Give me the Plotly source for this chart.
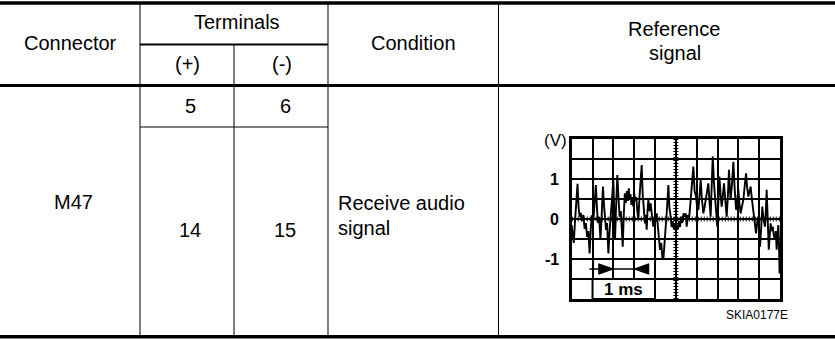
import plotly.graph_objects as go

# ---------------- data ----------------
header_connector = "Connector"
header_terminals = "Terminals"
header_plus = "(+)"
header_minus = "(-)"
header_condition = "Condition"
header_reference = ["Reference", "signal"]
connector = "M47"
term_plus = ["5", "14"]
term_minus = ["6", "15"]
condition = ["Receive audio", "signal"]
figure_code = "SKIA0177E"
volt_unit = "(V)"
volt_labels = ["1", "0", "-1"]
volt_label_vals = [1, 0, -1]
time_label = "1 ms"

# waveform: (time in ms, voltage in V)
wave = [
    (0.00, -0.15), (0.05, -0.45), (0.10, -0.60), (0.16, -0.05), (0.22, 0.35), (0.28, 0.88),
    (0.33, 0.30), (0.38, 0.05), (0.44, 0.15), (0.50, -0.05), (0.56, 0.10), (0.62, -0.25),
    (0.68, -0.10), (0.74, -0.45), (0.80, -0.30), (0.86, -0.86), (0.92, -0.20), (0.98, 0.10),
    (1.04, -0.05), (1.10, 0.40), (1.16, 0.85), (1.22, 0.20), (1.27, -0.10), (1.32, 0.05),
    (1.38, -0.52), (1.44, 0.10), (1.50, 0.81), (1.55, 0.35), (1.60, -0.05), (1.65, -0.27),
    (1.70, -0.10), (1.76, -0.86), (1.82, -0.30), (1.88, 0.06), (1.94, 0.50), (2.00, 0.97),
    (2.04, 0.20), (2.08, -0.52), (2.13, 0.30), (2.19, 1.10), (2.25, 0.50), (2.30, 0.06),
    (2.36, 0.20), (2.41, -0.30), (2.45, -0.69), (2.50, 0.10), (2.55, 0.64), (2.60, 0.40),
    (2.65, 0.70), (2.70, 0.45), (2.74, 0.77), (2.78, 0.50), (2.82, 0.62), (2.87, 0.35),
    (2.92, 0.55), (2.96, 0.31), (3.00, 0.64), (3.05, 0.45), (3.10, 0.55), (3.15, 0.20),
    (3.20, -0.02), (3.25, 0.50), (3.30, 0.90), (3.36, 1.35), (3.41, 0.60), (3.46, 0.20),
    (3.52, -0.11), (3.56, 0.10), (3.60, -0.27), (3.64, 0.20), (3.68, 0.48), (3.73, 0.20),
    (3.79, 0.39), (3.85, 0.10), (3.92, -0.19), (3.98, 0.05), (4.04, -0.05), (4.08, 0.14),
    (4.13, -0.20), (4.18, -0.50), (4.24, -0.77), (4.30, -0.60), (4.35, -0.95), (4.40, -1.02),
    (4.45, -0.70), (4.49, -0.40), (4.53, -0.19), (4.58, 0.30), (4.64, 0.85), (4.69, 0.30),
    (4.75, 0.06), (4.80, -0.20), (4.85, -0.05), (4.90, -0.25), (4.95, -0.10), (5.00, -0.30),
    (5.05, -0.15), (5.10, -0.25), (5.15, -0.05), (5.20, -0.20), (5.26, 0.06), (5.31, -0.10),
    (5.37, 0.14), (5.44, 0.05), (5.48, 0.14), (5.52, -0.19), (5.58, 0.10), (5.63, 0.00),
    (5.68, 0.27), (5.74, 0.60), (5.79, 0.95), (5.84, 1.31), (5.90, 0.70), (5.97, 0.56),
    (6.02, 0.30), (6.08, 0.23), (6.14, 0.60), (6.19, 0.98), (6.25, 0.50), (6.32, 0.14),
    (6.38, 0.30), (6.45, 0.56), (6.50, 0.70), (6.56, 0.89), (6.62, 0.40), (6.67, 0.06),
    (6.72, 0.80), (6.77, 1.56), (6.83, 0.90), (6.88, 0.48), (6.94, 0.10), (6.99, -0.19),
    (7.04, 0.40), (7.09, 1.06), (7.15, 0.60), (7.20, 0.31), (7.26, 0.60), (7.31, 0.89),
    (7.37, 0.50), (7.44, 0.06), (7.50, 0.60), (7.55, 1.23), (7.60, 0.70), (7.63, 0.48),
    (7.70, 0.90), (7.76, 1.43), (7.82, 0.80), (7.89, 0.23), (7.95, 0.50), (8.00, 0.73),
    (8.05, 0.40), (8.11, 0.14), (8.17, 0.30), (8.24, 0.48), (8.30, 0.80), (8.37, 1.14),
    (8.42, 0.80), (8.48, 0.56), (8.54, 0.70), (8.59, 0.81), (8.65, 0.50), (8.72, 0.23),
    (8.78, 0.00), (8.85, -0.36), (8.90, -0.10), (8.96, 0.06), (9.00, -0.30), (9.04, -0.69),
    (9.10, -0.20), (9.15, 0.31), (9.21, 0.00), (9.28, -0.19), (9.32, 0.20), (9.36, 0.73),
    (9.41, 0.00), (9.46, -0.77), (9.51, -0.40), (9.55, -0.11), (9.60, -0.30), (9.65, -0.19),
    (9.70, -0.40), (9.76, -0.52), (9.80, -0.30), (9.84, -0.77), (9.88, -0.40), (9.92, -0.15),
    (9.95, -0.60), (9.98, -1.36),
]
t_ms = [p[0] for p in wave]
volts = [p[1] for p in wave]

W, H = 835, 339
FONT = "Liberation Sans, Arial, sans-serif"
FS = 20

fig = go.Figure()

fig.add_trace(go.Scatter(x=t_ms, y=volts, mode="lines", xaxis="x2", yaxis="y2",
                         line=dict(color="black", width=1.9), hoverinfo="skip",
                         showlegend=False))

shapes = []

def hline(y, x0, x1, w):
    shapes.append(dict(type="line", xref="x", yref="y", x0=x0, x1=x1, y0=y, y1=y,
                       line=dict(color="black", width=w)))

def vline(x, y0, y1, w):
    shapes.append(dict(type="line", xref="x", yref="y", x0=x, x1=x, y0=y0, y1=y1,
                       line=dict(color="black", width=w)))

# table rules
hline(3, 0, W, 3.5)
hline(85.5, 0, W, 3)
hline(336.8, 0, W, 3.5)
hline(44.5, 140, 328, 2)
hline(127, 140, 328, 1)
vline(140, 3, 336, 1)
vline(234, 44, 336, 1)
vline(328, 3, 336, 1)
vline(498.5, 3, 336, 1)

# scope: centre lines with tick ladder
for (x0, x1, y0, y1) in [(5, 5, -2, 2), (0, 10, 0, 0)]:
    shapes.append(dict(type="line", xref="x2", yref="y2", x0=x0, x1=x1, y0=y0, y1=y1,
                       line=dict(color="black", width=1.5), layer="below"))
    shapes.append(dict(type="line", xref="x2", yref="y2", x0=x0, x1=x1, y0=y0, y1=y1,
                       line=dict(color="black", width=5, dash="1px,2px"), layer="below"))
# 1 ms label box
shapes.append(dict(type="rect", xref="x2", yref="y2", x0=1, x1=4, y0=-2, y1=-1.5,
                   fillcolor="white", line=dict(color="black", width=2), layer="above"))
# measurement arrow
shapes.append(dict(type="line", xref="x2", yref="y2", x0=0.85, x1=3.7, y0=-1.25, y1=-1.25,
                   line=dict(color="black", width=1.5)))
shapes.append(dict(type="path", xref="x2", yref="y2",
                   path="M 1.3 -1.12 L 2.0 -1.25 L 1.3 -1.38 Z",
                   fillcolor="black", line=dict(color="black", width=1)))
shapes.append(dict(type="path", xref="x2", yref="y2",
                   path="M 3.7 -1.12 L 3.0 -1.25 L 3.7 -1.38 Z",
                   fillcolor="black", line=dict(color="black", width=1)))

ann = []

def txt(x, y, s, size=FS, xanchor="center", xref="x", yref="y", bold=False):
    ann.append(dict(x=x, y=y, xref=xref, yref=yref, text=(f"<b>{s}</b>" if bold else s),
                    showarrow=False, xanchor=xanchor, yanchor="middle", align="left",
                    font=dict(family=FONT, size=size, color="black")))

txt(70, 43, header_connector)
txt(237, 22, header_terminals)
txt(187, 64, header_plus)
txt(282, 64, header_minus)
txt(413, 43, header_condition)
txt(674, 29, header_reference[0])
txt(675, 53, header_reference[1])
txt(190, 106, term_plus[0])
txt(285, 106, term_minus[0])
txt(73, 202, connector)
txt(190, 230, term_plus[1])
txt(285, 230, term_minus[1])
txt(336, 203, condition[0], xanchor="left")
txt(336, 228, condition[1], xanchor="left")
txt(757, 315, figure_code, size=12)
txt(555, 140, volt_unit, size=17)
for v, s in zip(volt_label_vals, volt_labels):
    txt(561, v, s, size=16, xanchor="right", yref="y2", bold=True)
txt(2.5, -1.76, time_label, size=17, xref="x2", yref="y2", bold=True)

fig.update_layout(
    width=W, height=H, margin=dict(l=0, r=0, t=0, b=0),
    paper_bgcolor="white", plot_bgcolor="rgba(0,0,0,0)",
    xaxis=dict(range=[0, W], domain=[0, 1], visible=False, fixedrange=True),
    yaxis=dict(range=[H, 0], domain=[0, 1], visible=False, fixedrange=True),
    xaxis2=dict(domain=[571.7 / W, 780 / W], range=[0, 10], anchor="y2",
                tickmode="linear", tick0=0, dtick=1, showticklabels=False, ticks="",
                showgrid=True, gridcolor="black", gridwidth=2, zeroline=False,
                showline=True, mirror=True, linecolor="black", linewidth=2.5),
    yaxis2=dict(domain=[1 - 299 / H, 1 - 139 / H], range=[-2, 2], anchor="x2",
                tickmode="linear", tick0=0, dtick=0.5, showticklabels=False, ticks="",
                showgrid=True, gridcolor="black", gridwidth=2, zeroline=False,
                showline=True, mirror=True, linecolor="black", linewidth=2.5),
    shapes=shapes, annotations=ann, showlegend=False,
)

fig.write_html("out.html", config={"displayModeBar": False},
               post_script="document.body.style.margin='0px';document.body.style.overflow='hidden';")
